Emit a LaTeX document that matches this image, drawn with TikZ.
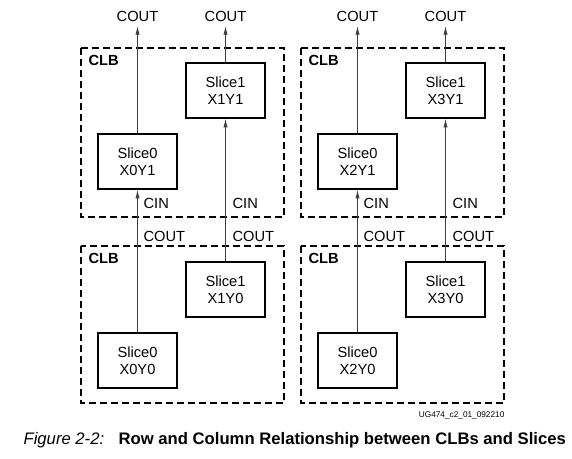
\documentclass[tikz,border=0pt]{standalone}
\usepackage{fontspec}
\setmainfont{Liberation Sans}
\usetikzlibrary{arrows.meta,positioning}

\begin{document}
\begin{tikzpicture}
[x=0.75pt, y=-0.75pt, font=\fontsize{11}{12.75}\selectfont, line width=0.9pt,
clb/.style={draw, dash pattern=on 5.25pt off 3pt, line width=1pt},
clblabel/.style={anchor=west, inner sep=0pt, font=\fontsize{11}{13}\selectfont\bfseries},
slice/.style={rectangle, draw, line width=1.1pt, align=center, inner sep=0pt, minimum width=59.25pt, minimum height=41.25pt},
carry/.style={draw=black!75, line width=0.6pt, -{Latex[length=6.5pt,width=3.2pt]}},
sig/.style={inner sep=0pt},
sigr/.style={anchor=west, inner sep=0pt}]

\useasboundingbox (0,0) rectangle (572,459);

% CLB frames
\draw[clb] (81,48) rectangle (284,217);
\draw[clb] (301,48) rectangle (504,217);
\draw[clb] (81,246) rectangle (284,403);
\draw[clb] (301,246) rectangle (504,403);

\node[clblabel] (clb01) at (88,60) {CLB};
\node[clblabel] (clb11) at (308,60) {CLB};
\node[clblabel] (clb00) at (88,258) {CLB};
\node[clblabel] (clb10) at (308,258) {CLB};

% slices
\node[slice] (x0y1) at (137.5,161.5) {Slice0\\X0Y1};
\node[slice] (x1y1) at (225.5,90.5) {Slice1\\X1Y1};
\node[slice] (x0y0) at (137.5,360.5) {Slice0\\X0Y0};
\node[slice] (x1y0) at (225.5,289.5) {Slice1\\X1Y0};

\node[slice] (x2y1) at (357.5,161.5) {Slice0\\X2Y1};
\node[slice] (x3y1) at (445.5,90.5) {Slice1\\X3Y1};
\node[slice] (x2y0) at (357.5,360.5) {Slice0\\X2Y0};
\node[slice] (x3y0) at (445.5,289.5) {Slice1\\X3Y0};

% carry out of the top row
\node[sig] (cout0) at (137.5,16) {COUT};
\node[sig] (cout1) at (225.5,16) {COUT};
\node[sig] (cout2) at (357.5,16) {COUT};
\node[sig] (cout3) at (445.5,16) {COUT};

\coordinate (tip0) at (137.5,26);
\coordinate (tip1) at (225.5,26);
\coordinate (tip2) at (357.5,26);
\coordinate (tip3) at (445.5,26);

\draw[carry] (x0y1) -- (tip0);
\draw[carry] (x1y1) -- (tip1);
\draw[carry] (x2y1) -- (tip2);
\draw[carry] (x3y1) -- (tip3);

% carry chain between the rows
\draw[carry] (x0y0.north) -- (x0y1.south);
\draw[carry] (x1y0.north) -- (x1y1.south);
\draw[carry] (x2y0.north) -- (x2y1.south);
\draw[carry] (x3y0.north) -- (x3y1.south);

\node[sigr] (cin0) at (143,203) {CIN};
\node[sigr] (cin1) at (232,203) {CIN};
\node[sigr] (cin2) at (363,203) {CIN};
\node[sigr] (cin3) at (452,203) {CIN};

\node[sigr] (coutb0) at (143,236) {COUT};
\node[sigr] (coutb1) at (232,236) {COUT};
\node[sigr] (coutb2) at (363,236) {COUT};
\node[sigr] (coutb3) at (452,236) {COUT};

\node[anchor=east, inner sep=0pt, font=\fontsize{6.2}{7}\selectfont] (ugid) at (505,415) {UG474\_c2\_01\_092210};

\node[anchor=base west, inner sep=0pt, font=\fontsize{12.5}{14}\selectfont\itshape] (fignum) at (23,445) {Figure 2-2:};
\node[anchor=base west, inner sep=0pt, font=\fontsize{12.5}{14}\selectfont\bfseries] (figtitle) at (118,445) {Row and Column Relationship between CLBs and Slices};
\end{tikzpicture}
\end{document}
